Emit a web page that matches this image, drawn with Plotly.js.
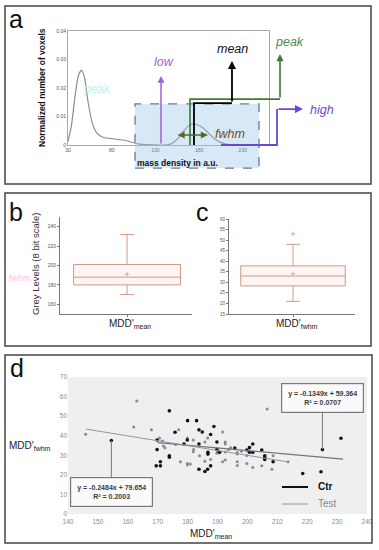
<!DOCTYPE html>
<html><head><meta charset="utf-8">
<script src="https://cdn.plot.ly/plotly-3.0.1.min.js"></script>
<style>html,body{margin:0;padding:0;background:#fff}#chart{width:379px;height:550px}</style>
</head><body><div id="chart"></div>
<script>
// ---------- Panel a : normalized voxel distribution ----------
const curveX = [30,34,38,42,45.5,49,53,58,63,70,78,88,97,105,112,120,140,148,152,157,162,166,170,174,178,183,188,193,198,204,210,216,225,260];
const curveY = [0.0012,0.007,0.017,0.0245,0.0262,0.0235,0.015,0.0075,0.0042,0.0027,0.0023,0.0019,0.0015,0.0008,0.0003,0.0001,0,0.0004,0.0012,0.0028,0.0048,0.0062,0.0071,0.0073,0.0071,0.0063,0.005,0.0035,0.0021,0.001,0.0004,0.0001,0,0];
const aTickX = [30,80,130,180,230];
const aTickY = [0,0.01,0.02,0.03,0.04];
const aTickYText = ['0','0.01','0.02','0.03','0.04'];
const lowVal = 136.3, meanVal = 174, peakVal = 169.4, highVal = 204.9;
const fwhmRange = [153.4, 190];

// ---------- Panel b / c : box plots ----------
const boxB = {q1:180, median:188, q3:201, lower:170, upper:232, mean:191};
const boxC = {q1:28.3, median:33, q3:37.8, lower:21, upper:48, mean:34, outlier:53};
const bTicks = [160,180,200,220,240];
const cTicks = [15,20,25,30,35,40,45,50,55,60];

// ---------- Panel d : scatter ----------
const ctrX = [173.9,180,183,188.8,183.8,184.9,175.8,187.7,179.9,169.8,154.5,189.8,183.8,178.8,201.8,169.8,189.8,195.8,199.8,200.7,204.8,225.1,231.3,190.7,186.8,186.8,200.7,201.8,173.9,173.9,205.8,205.8,205.8,208.6,170.9,170.9,169.5,187.7,186.7,183.8,185.8,218.5,224.6];
const ctrY = [52.7,47.7,47.7,44.7,43,41.9,41.8,40.6,37.8,37.8,37.5,36.8,35.8,35.8,35.8,32.9,33,33.7,32.7,33.9,32.7,32.9,38.7,31.5,31.5,30.6,31.5,31.5,29.8,29,29.8,28.9,27.9,26.7,26.7,24.6,24.6,24.6,22.9,22.9,21.7,20.7,21.6];
const testX = [163,162,167.9,206.6,145.9,170.6,177,179.9,181.9,191.7,186.7,185.8,171.6,172.4,171.9,192.6,192.6,194.4,193.7,181.9,189.8,192.6,196.6,196.6,199.8,208.6,213.6,177.6,179.9,180.9,179.9,185.8,187.7,191.7,192.6,196.6,196.6,199.8,201.8,204.8,208.2,184,190,176,182,198];
const testY = [57.7,44.5,43,53.6,40.7,38.8,43,38.8,37.8,41.9,38.8,36.8,37.3,33.9,34.8,36.8,35.8,33.8,33,31.8,31,31.7,31.4,30.6,29.9,29.8,26.7,26.7,25.8,25.5,25,27,27.9,26.7,27.6,26.7,24.8,25.8,23.8,24.6,22.9,29.7,32,35.5,33,32];
const ctrFit = {slope:-0.1349, intercept:59.364, r2:0.0707, xr:[170,232]};
const testFit = {slope:-0.2484, intercept:79.654, r2:0.2003, xr:[146,214]};
const dTickX = [140,150,160,170,180,190,200,210,220,230,240];
const dTickY = [0,10,20,30,40,50,60,70];

// ---------- helpers ----------
const W = 379, H = 550;
const px = v => v / W, py = v => 1 - v / H;
const FONT = 'Liberation Sans, Arial, sans-serif';
const fitLine = f => ({x: f.xr, y: f.xr.map(x => f.slope * x + f.intercept)});
const fmt = v => (v < 0 ? '-' : '') + Math.abs(v).toFixed(4);

const ctrL = fitLine(ctrFit), testL = fitLine(testFit);
const boxColor = '#cf9a86';

const traces = [
  {x: curveX, y: curveY, xaxis: 'x', yaxis: 'y', mode: 'lines', line: {color: '#8e8e8e', width: 1.2, shape: 'spline', smoothing: 0.6}, hoverinfo: 'skip'},
  {x: [], y: [], xaxis: 'x2', yaxis: 'y2', mode: 'markers'},
  {type: 'box', x: [0], q1: [boxB.q1], median: [boxB.median], q3: [boxB.q3], lowerfence: [boxB.lower], upperfence: [boxB.upper],
   xaxis: 'x3', yaxis: 'y3', width: 0.81, whiskerwidth: 0.13, boxpoints: false, line: {color: boxColor, width: 1}, fillcolor: 'rgba(252,236,232,0.5)'},
  {x: [0], y: [boxB.mean], xaxis: 'x3', yaxis: 'y3', mode: 'markers', marker: {symbol: 'cross-thin', size: 3, line: {color: '#e0a8a8', width: 1}}},
  {type: 'box', x: [0], q1: [boxC.q1], median: [boxC.median], q3: [boxC.q3], lowerfence: [boxC.lower], upperfence: [boxC.upper],
   xaxis: 'x4', yaxis: 'y4', width: 0.83, whiskerwidth: 0.13, boxpoints: false, line: {color: boxColor, width: 1}, fillcolor: 'rgba(252,236,232,0.5)'},
  {x: [0, 0], y: [boxC.mean, boxC.outlier], xaxis: 'x4', yaxis: 'y4', mode: 'markers', marker: {symbol: 'cross-thin', size: 3, line: {color: '#e0a8a8', width: 1}}},
  {x: testX, y: testY, xaxis: 'x5', yaxis: 'y5', mode: 'markers', marker: {color: '#8a8a8a', size: 3}},
  {x: ctrX, y: ctrY, xaxis: 'x5', yaxis: 'y5', mode: 'markers', marker: {color: '#111', size: 3.6}},
  {x: ctrL.x, y: ctrL.y, xaxis: 'x5', yaxis: 'y5', mode: 'lines', line: {color: '#6f7782', width: 1.2}},
  {x: testL.x, y: testL.y, xaxis: 'x5', yaxis: 'y5', mode: 'lines', line: {color: '#8e98a4', width: 1}}
];

const aScale = 0.875; // px per unit on panel-a x axis
const ax = {showgrid: false, zeroline: false};
const layout = {
  width: W, height: H, margin: {l: 0, r: 0, t: 0, b: 0}, showlegend: false,
  paper_bgcolor: '#fff', plot_bgcolor: 'rgba(0,0,0,0)', font: {family: FONT, color: '#333'},
  xaxis: {...ax, domain: [px(68), px(269)], range: [30, 260], anchor: 'y', tickvals: aTickX, tickfont: {size: 5, color: '#555'},
          showline: true, mirror: true, linecolor: '#a8a8a8', linewidth: 1, ticks: ''},
  yaxis: {...ax, domain: [py(145), py(31)], range: [0, 0.04], anchor: 'x', tickvals: aTickY, ticktext: aTickYText, tickfont: {size: 5, color: '#555'},
          showline: true, mirror: true, linecolor: '#a8a8a8', linewidth: 1, ticks: ''},
  xaxis2: {...ax, visible: false, domain: [px(68), px(371)], range: [30, 30 + (371 - 68) / aScale], anchor: 'y2'},
  yaxis2: {...ax, visible: false, domain: [py(184), py(31)], range: [-(184 - 145) / 114 * 0.04, 0.04], anchor: 'x2'},
  xaxis3: {...ax, domain: [px(60), px(192)], range: [-0.508, 0.492], anchor: 'y3', tickvals: [0], ticktext: [''], ticks: 'outside', ticklen: 2,
           tickcolor: '#777', showline: true, linecolor: '#777', linewidth: 1},
  yaxis3: {...ax, domain: [py(314), py(217)], range: [150, 250], anchor: 'x3', tickvals: bTicks, tickfont: {size: 5, color: '#555'},
           ticks: 'outside', ticklen: 2, tickcolor: '#777', showline: true, linecolor: '#777', linewidth: 1},
  xaxis4: {...ax, domain: [px(229), px(355)], range: [-0.508, 0.492], anchor: 'y4', tickvals: [0], ticktext: [''], ticks: 'outside', ticklen: 2,
           tickcolor: '#777', showline: true, linecolor: '#777', linewidth: 1},
  yaxis4: {...ax, domain: [py(314), py(219)], range: [15, 60], anchor: 'x4', tickvals: cTicks, tickfont: {size: 4.5, color: '#555'},
           ticks: 'outside', ticklen: 2, tickcolor: '#777', showline: true, linecolor: '#777', linewidth: 1},
  xaxis5: {...ax, domain: [px(68), px(367)], range: [140, 240], anchor: 'y5', tickvals: dTickX, tickfont: {size: 6.5, color: '#8a8a8a'},
           showline: false, ticklabelstandoff: 2},
  yaxis5: {...ax, domain: [py(514), py(377)], range: [0, 70], anchor: 'x5', tickvals: dTickY, tickfont: {size: 6.5, color: '#8a8a8a'}, showline: false},
  shapes: [], annotations: []
};

const S = layout.shapes, A = layout.annotations;
// panel frames
[[5, 6, 371, 184], [5, 193, 371, 346], [5, 355, 372, 543]].forEach(r =>
  S.push({type: 'rect', xref: 'paper', yref: 'paper', x0: px(r[0]), x1: px(r[2]), y0: py(r[3]), y1: py(r[1]), line: {color: '#444', width: 1.5}}));
// panel d background
S.push({type: 'rect', xref: 'x5 domain', yref: 'y5 domain', x0: 0, x1: 1, y0: 0, y1: 1, fillcolor: '#efefef', line: {width: 0}, layer: 'below'});

// panel a decorations (overlay axes x2/y2, same scale as the curve axes)
S.push({type: 'rect', xref: 'x2', yref: 'y2', x0: 106.6, x1: 248.3, y0: -0.0081, y1: 0.0144,
        fillcolor: 'rgba(150,195,235,0.38)', line: {color: '#6b7895', width: 1.3, dash: 'dash'}});
const path = (pts) => 'M' + pts.map(p => p[0] + ',' + p[1]).join(' L');
const yMeanTurn = 0.0147, yPeakTurn = 0.0161, yHigh = 0.0126;
const xMeanTop = 217.4, xPeakTop = 272.3, xHighTurn = 268.9, xHighEnd = 298.6;
S.push({type: 'path', xref: 'x2', yref: 'y2', path: path([[peakVal, 0], [peakVal, yPeakTurn], [xPeakTop, yPeakTurn]]), line: {color: '#3f7a35', width: 1.6}});
S.push({type: 'path', xref: 'x2', yref: 'y2', path: path([[meanVal, 0], [meanVal, yMeanTurn], [xMeanTop, yMeanTurn]]), line: {color: '#000', width: 1.8}});
S.push({type: 'path', xref: 'x2', yref: 'y2', path: path([[highVal, 0], [xHighTurn, 0], [xHighTurn, yHigh]]), line: {color: '#6a48d6', width: 1.8}});
const arrow = (x0, y0, x1, y1, color, w, side) => A.push({xref: 'x2', yref: 'y2', axref: 'x2', ayref: 'y2', x: x1, y: y1, ax: x0, ay: y0,
  text: '', showarrow: true, arrowhead: 2, arrowsize: 0.9, arrowwidth: w, arrowcolor: color, arrowside: side || 'end', standoff: 0, startstandoff: 0, font: {size: 1}});
arrow(lowVal, 0, lowVal, 0.0242, '#9d62d6', 1.5);
arrow(xMeanTop, yMeanTurn, xMeanTop, 0.0295, '#000', 1.8);
arrow(xPeakTop, yPeakTurn, xPeakTop, 0.0319, '#3f7a35', 1.6);
arrow(xHighTurn, yHigh, xHighEnd, yHigh, '#6a48d6', 1.8);
arrow(fwhmRange[0], 0.0035, fwhmRange[1], 0.0035, '#556b22', 1.6, 'end+start');

const txt = (t, x, y, o) => A.push(Object.assign({xref: 'paper', yref: 'paper', x: px(x), y: py(y), text: t, showarrow: false,
  xanchor: 'center', yanchor: 'middle', font: {family: FONT, size: 12, color: '#000'}}, o || {}));
txt('peak', 97, 89, {font: {family: FONT, size: 12, color: '#b8f4f4'}});
txt('fwhm', 20, 278, {font: {family: FONT, size: 9, color: '#ffc0e8'}});
txt('a', 16, 19, {font: {family: FONT, size: 25, color: '#111'}});
txt('b', 16, 212, {font: {family: FONT, size: 25, color: '#111'}});
txt('c', 202, 212, {font: {family: FONT, size: 25, color: '#111'}});
txt('d', 17, 368, {font: {family: FONT, size: 25, color: '#111'}});
txt('<i>low</i>', 164, 62, {font: {family: FONT, size: 12.5, color: '#9a64d0'}});
txt('<i>mean</i>', 232, 49, {font: {family: FONT, size: 12.5, color: '#111'}});
txt('<i>peak</i>', 289, 42, {font: {family: FONT, size: 12.5, color: '#4e8a4a'}});
txt('<i>high</i>', 322, 110, {font: {family: FONT, size: 12.5, color: '#6a48d6'}});
txt('<i>fwhm</i>', 230, 134, {font: {family: FONT, size: 12.5, color: '#7b4a24'}});
txt('<b>mass density in a.u.</b>', 177, 163, {font: {family: FONT, size: 8.5, color: '#111'}});
txt('<b>Normalized number of voxels</b>', 42, 88, {textangle: -90, font: {family: FONT, size: 8.5, color: '#111'}});
txt('Grey Levels (8 bit scale)', 35, 264, {textangle: -90, font: {family: FONT, size: 9.5, color: '#333'}});
txt("MDD'<sub>mean</sub>", 130, 324, {font: {family: FONT, size: 10, color: '#222'}});
txt("MDD'<sub>fwhm</sub>", 297, 324, {font: {family: FONT, size: 10, color: '#222'}});
txt("MDD'<sub>fwhm</sub>", 30, 446, {font: {family: FONT, size: 10, color: '#222'}});
txt("MDD'<sub>mean</sub>", 211, 534, {font: {family: FONT, size: 10, color: '#222'}});

// callouts with the fitted equations
const callout = (f, xPt, yPt, dy) => A.push({xref: 'x5', yref: 'y5', x: xPt, y: yPt, ax: 0, ay: dy, showarrow: true, arrowhead: 0,
  arrowwidth: 1, arrowcolor: '#777', standoff: 0,
  text: '<b>y = ' + fmt(f.slope) + 'x + ' + f.intercept.toFixed(3) + '<br>R² = ' + f.r2.toFixed(4) + '</b>',
  bgcolor: '#fafafa', bordercolor: '#7a7a7a', borderwidth: 1.2, borderpad: 1, width: 79, height: 26,
  font: {family: FONT, size: 7, color: '#3a3a3a'}});
callout(testFit, 154.5, 37.5, 51);
callout(ctrFit, 225.1, 32.9, -52);

// legend (panel d)
S.push({type: 'line', xref: 'paper', yref: 'paper', x0: px(282), x1: px(308), y0: py(487), y1: py(487), line: {color: '#111', width: 2}});
S.push({type: 'line', xref: 'paper', yref: 'paper', x0: px(282), x1: px(308), y0: py(504), y1: py(504), line: {color: '#8e98a4', width: 1}});
txt('<b>Ctr</b>', 316, 486, {xanchor: 'left', font: {family: FONT, size: 10, color: '#111'}});
txt('Test', 316, 503, {xanchor: 'left', font: {family: FONT, size: 10, color: '#8a8a8a'}});

Plotly.newPlot('chart', traces, layout, {staticPlot: true, displayModeBar: false});
</script></body></html>
